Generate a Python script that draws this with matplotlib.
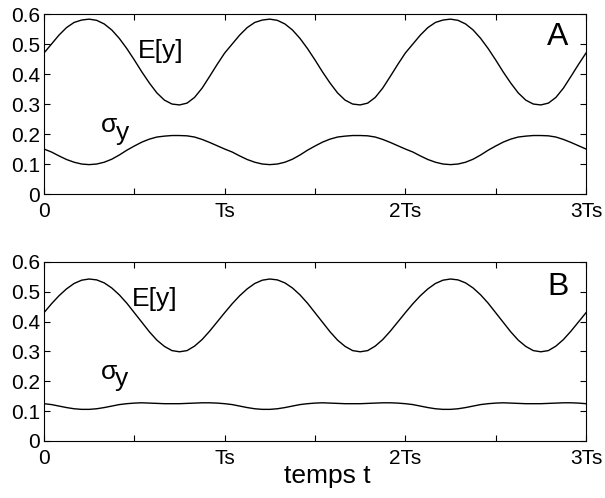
import numpy as np
import matplotlib
matplotlib.use("Agg")
import matplotlib.pyplot as plt

plt.rcParams['font.family'] = ['Liberation Sans', 'DejaVu Sans']

E_A_period = [0.470, 0.500, 0.530, 0.555, 0.572, 0.580, 0.583, 0.579, 0.567, 0.547,
              0.519, 0.485, 0.447, 0.407, 0.370, 0.337, 0.313, 0.300, 0.297, 0.303,
              0.322, 0.353, 0.392, 0.432]
S_A_period = [0.150, 0.140, 0.127, 0.115, 0.106, 0.100, 0.098, 0.100, 0.106, 0.116,
              0.130, 0.146, 0.160, 0.173, 0.183, 0.190, 0.193, 0.195, 0.195, 0.194,
              0.190, 0.182, 0.172, 0.161]
E_B_period = [0.430, 0.460, 0.487, 0.510, 0.528, 0.539, 0.543, 0.540, 0.530, 0.513,
              0.490, 0.462, 0.430, 0.398, 0.366, 0.338, 0.317, 0.303, 0.299, 0.303,
              0.318, 0.340, 0.368, 0.399]
S_B_period = [0.125, 0.122, 0.117, 0.112, 0.108, 0.106, 0.106, 0.108, 0.112, 0.117,
              0.122, 0.125, 0.127, 0.128, 0.127, 0.126, 0.125, 0.125, 0.125, 0.126,
              0.127, 0.128, 0.128, 0.127]
n_periods = 3

x_ticks = [0, 0.5, 1, 1.5, 2, 2.5, 3]
x_ticklabels = ['0', '', 'Ts', '', '2Ts', '', '3Ts']
y_ticks = [0, 0.1, 0.2, 0.3, 0.4, 0.5, 0.6]
y_ticklabels = ['0', '0.1', '0.2', '0.3', '0.4', '0.5', '0.6']


def full(period):
    vals = list(period) * n_periods
    vals.append(period[0])
    return np.array(vals)


n = len(E_A_period)
t = np.arange(n * n_periods + 1) / n

fig = plt.figure(figsize=(6.05, 4.98), dpi=100)
axA = fig.add_axes([0.0727, 0.6104, 0.8959, 0.3614])
axB = fig.add_axes([0.0727, 0.1145, 0.8959, 0.3594])

panels = [
    (axA, E_A_period, S_A_period, 'A', (0.52, 0.477), (0.315, 0.208), (0.40, 0.181), 0.524),
    (axB, E_B_period, S_B_period, 'B', (0.486, 0.476), (0.315, 0.208), (0.395, 0.184), 0.517),
]

for ax, E, S, lab, epos, spos, ypos, laby in panels:
    ax.plot(t, full(E), color='black', lw=1.0)
    ax.plot(t, full(S), color='black', lw=1.0)
    ax.set_xlim(0, 3)
    ax.set_ylim(0, 0.6)
    ax.set_xticks(x_ticks)
    ax.set_xticklabels(x_ticklabels)
    ax.set_yticks(y_ticks)
    ax.set_yticklabels(y_ticklabels)
    ax.tick_params(direction='in', top=True, right=True, length=4, width=0.8,
                   labelsize=15)
    ax.tick_params(axis='x', pad=5.5)
    ax.tick_params(axis='y', pad=3)
    for sp in ax.spines.values():
        sp.set_linewidth(0.8)
    ax.text(epos[0], epos[1], 'E[y]', fontsize=19, ha='left', va='center')
    ax.text(spos[0], spos[1], 'σ', fontsize=19, ha='left', va='baseline')
    ax.text(ypos[0], ypos[1], 'y', fontsize=19, ha='left', va='baseline')
    ax.text(2.785, laby, lab, fontsize=23, ha='left', va='center')

axB.set_xlabel('temps t', fontsize=19)
axB.xaxis.set_label_coords(0.522, -0.13)

fig.savefig('out.png', dpi=100)
